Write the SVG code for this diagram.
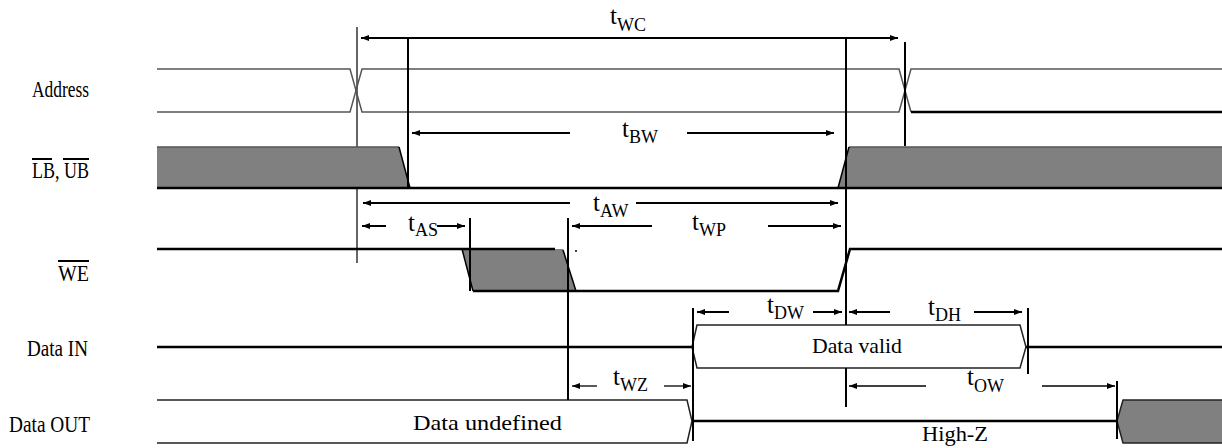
<svg xmlns="http://www.w3.org/2000/svg" width="1222" height="448" viewBox="0 0 1222 448">
<defs>
<marker id="ah" viewBox="0 0 8 6" refX="8" refY="3" markerWidth="8" markerHeight="6" markerUnits="userSpaceOnUse" orient="auto-start-reverse">
<path d="M0,0 L8,3 L0,6 z" fill="#000"/>
</marker>
<style>
.lbl{font-family:"Liberation Serif","Times New Roman",serif;font-size:24px;fill:#000}
.t{font-family:"Liberation Serif","Times New Roman",serif;font-size:25px;fill:#000}
.s{font-size:18px}
.txt{font-family:"Liberation Serif","Times New Roman",serif;font-size:22px;fill:#000}
.thin{stroke:#555;stroke-width:1.5;fill:none}
.sig{stroke:#000;stroke-width:2.5;fill:none}
.hex{stroke:#222;stroke-width:1.5;fill:none}
.gray{fill:#808080}
.vl{stroke:#000;stroke-width:2}
.ar{stroke:#000;stroke-width:2;fill:none;marker-end:url(#ah)}
.ar2{stroke:#000;stroke-width:1.3;fill:none;marker-end:url(#ah)}
.ol{stroke:#000;stroke-width:2}
</style>
</defs>
<rect width="1222" height="448" fill="#fff"/>

<g id="guides">
<line x1="357" y1="27" x2="357" y2="263" stroke="#333" stroke-width="1.5"/>
</g>

<g id="address">
<text class="lbl" x="32" y="97" textLength="57" lengthAdjust="spacingAndGlyphs">Address</text>
<path class="thin" d="M157,69 H350 L362,112 H899 L911,69 H1222"/>
<path class="thin" d="M157,112 H350 L362,69 H899 L911,112"/>
<line x1="911" y1="112" x2="1222" y2="112" stroke="#000" stroke-width="2.5"/>
</g>

<g id="lbub">
<text class="lbl" x="32" y="178" font-size="21" textLength="57" lengthAdjust="spacingAndGlyphs">LB, UB</text>
<line class="ol" x1="32" y1="159" x2="52" y2="159"/>
<line class="ol" x1="63" y1="159" x2="89" y2="159"/>
<polygon class="gray" points="157,147 399,147 410,188 157,188"/>
<polygon class="gray" points="838,188 849,147 1222,147 1222,188"/>
<line x1="157" y1="147" x2="399" y2="147" stroke="#555" stroke-width="1.5"/>
<line x1="849" y1="147" x2="1222" y2="147" stroke="#555" stroke-width="1.5"/>
<line x1="399" y1="147" x2="410" y2="188" stroke="#000" stroke-width="1.5"/>
<line x1="838" y1="188" x2="849" y2="147" stroke="#000" stroke-width="1.5"/>
<line class="sig" x1="157" y1="188" x2="1222" y2="188"/>
</g>

<g id="we">
<text class="lbl" x="58" y="281" font-size="23" textLength="31" lengthAdjust="spacingAndGlyphs">WE</text>
<line class="ol" x1="58" y1="261" x2="89" y2="261"/>
<polygon class="gray" points="462,249 563,249 576,291 473,291"/>
<path class="sig" d="M157,249 H555"/>
<line x1="462" y1="249" x2="473" y2="291" stroke="#000" stroke-width="1.5"/>
<line x1="563" y1="250" x2="576" y2="291" stroke="#000" stroke-width="1.5"/>
<path class="sig" d="M473,291 H838 L850,249 H1222"/>
<circle cx="576" cy="251" r="1" fill="#000"/>
</g>

<g id="datain">
<text class="lbl" x="27" y="356" textLength="61" lengthAdjust="spacingAndGlyphs">Data IN</text>
<line class="sig" x1="157" y1="347" x2="692" y2="347"/>
<polygon class="hex" fill="#fff" style="fill:#fff" points="692,347 697,325 1020,325 1026,347 1020,368 697,368"/>
<line class="sig" x1="1026" y1="347" x2="1222" y2="347"/>
<text class="txt" x="812" y="353" textLength="90" lengthAdjust="spacingAndGlyphs">Data valid</text>
</g>

<g id="dataout">
<text class="lbl" x="9" y="432" textLength="81" lengthAdjust="spacingAndGlyphs">Data OUT</text>
<path class="hex" d="M157,400 H687 L692,421 L687,443 H157"/>
<text class="txt" x="413" y="430" textLength="149" lengthAdjust="spacingAndGlyphs">Data undefined</text>
<line class="sig" x1="692" y1="421" x2="1117" y2="421"/>
<text class="txt" x="922" y="441" textLength="66" lengthAdjust="spacingAndGlyphs">High-Z</text>
<path class="gray" d="M1222,400 H1123 L1117,421 L1123,443 H1222 z"/>
<path class="hex" d="M1222,400 H1123 L1117,421 L1123,443 H1222"/>
</g>

<g id="connectors">
<line class="vl" x1="408" y1="38" x2="408" y2="188"/>
<line class="vl" x1="846" y1="38" x2="846" y2="325"/>
<line class="vl" x1="846" y1="368" x2="846" y2="407"/>
<line class="vl" x1="905" y1="42" x2="905" y2="146"/>
<line class="vl" x1="470" y1="218" x2="470" y2="291"/>
<line class="vl" x1="568" y1="218" x2="568" y2="400"/>
<line class="vl" x1="693" y1="308" x2="693" y2="441"/>
<line class="vl" x1="1028" y1="308" x2="1028" y2="374"/>
<line class="vl" x1="1117" y1="381" x2="1117" y2="439"/>

<line x1="361" y1="38" x2="898" y2="38" stroke="#000" stroke-width="2" marker-start="url(#ah)" marker-end="url(#ah)"/>
<line class="ar" x1="570" y1="133" x2="412" y2="133"/>
<line class="ar" x1="687" y1="133" x2="834" y2="133"/>
<line class="ar" x1="570" y1="203" x2="363" y2="203"/>
<line class="ar" x1="636" y1="203" x2="838" y2="203"/>
<line class="ar" x1="386" y1="226" x2="362" y2="226"/>
<line class="ar" x1="437" y1="226" x2="465" y2="226"/>
<line class="ar" x1="652" y1="226" x2="572" y2="226"/>
<line class="ar" x1="768" y1="226" x2="841" y2="226"/>
<line class="ar" x1="729" y1="312" x2="697" y2="312"/>
<line class="ar" x1="813" y1="312" x2="842" y2="312"/>
<line class="ar" x1="890" y1="312" x2="849" y2="312"/>
<line class="ar" x1="974" y1="312" x2="1022" y2="312"/>
<line class="ar2" x1="597" y1="386" x2="572" y2="386"/>
<line class="ar2" x1="664" y1="386" x2="691" y2="386"/>
<line class="ar2" x1="926" y1="386" x2="849" y2="386"/>
<line class="ar2" x1="1042" y1="386" x2="1115" y2="386"/>

<text class="t" x="610" y="24">t<tspan class="s" dy="7">WC</tspan></text>
<text class="t" x="622" y="137">t<tspan class="s" dy="6">BW</tspan></text>
<text class="t" x="593" y="211">t<tspan class="s" dy="6">AW</tspan></text>
<text class="t" x="408" y="231">t<tspan class="s" dy="5">AS</tspan></text>
<text class="t" x="692" y="230">t<tspan class="s" dy="6">WP</tspan></text>
<text class="t" x="767" y="313">t<tspan class="s" dy="6">DW</tspan></text>
<text class="t" x="928" y="315">t<tspan class="s" dy="6">DH</tspan></text>
<text class="t" x="613" y="385">t<tspan class="s" dy="6">WZ</tspan></text>
<text class="t" x="967" y="385">t<tspan class="s" dy="7">OW</tspan></text>
</g>
</svg>
